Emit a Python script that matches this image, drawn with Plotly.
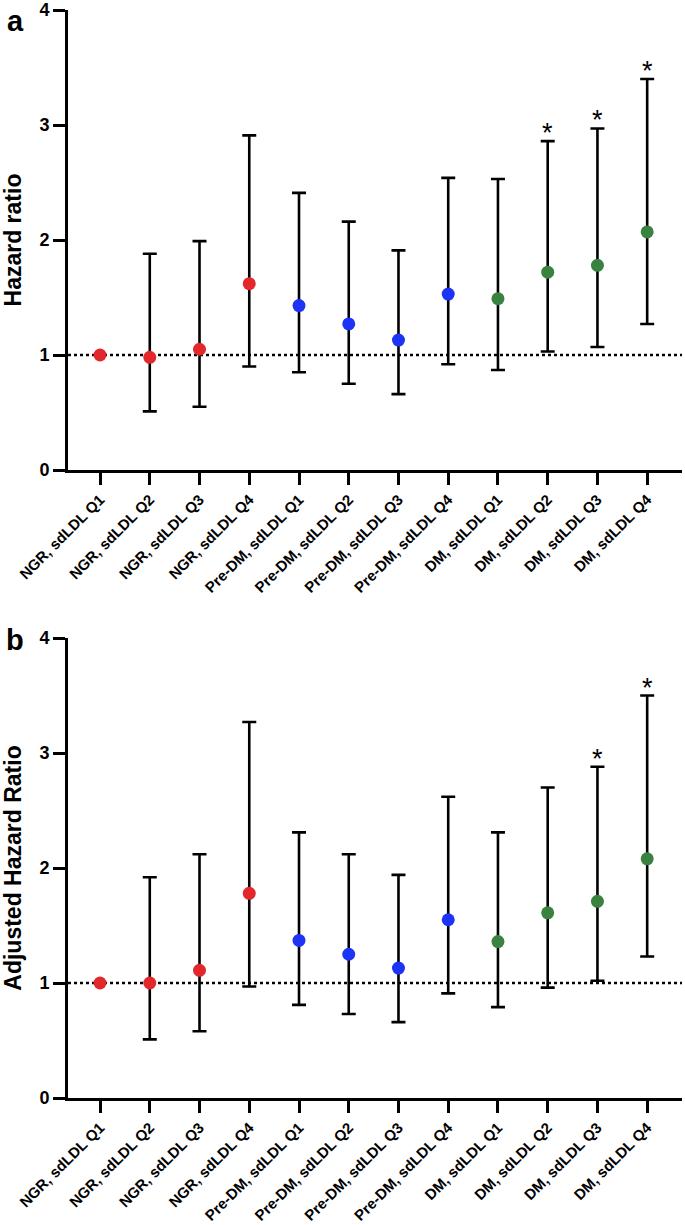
import numpy as np
import plotly.graph_objects as go

categories = ["NGR, sdLDL Q1", "NGR, sdLDL Q2", "NGR, sdLDL Q3", "NGR, sdLDL Q4",
              "Pre-DM, sdLDL Q1", "Pre-DM, sdLDL Q2", "Pre-DM, sdLDL Q3", "Pre-DM, sdLDL Q4",
              "DM, sdLDL Q1", "DM, sdLDL Q2", "DM, sdLDL Q3", "DM, sdLDL Q4"]
groups = ["NGR"] * 4 + ["Pre-DM"] * 4 + ["DM"] * 4

# Panel a: crude hazard ratios
hr_a = [1.00, 0.98, 1.05, 1.62, 1.43, 1.27, 1.13, 1.53, 1.49, 1.72, 1.78, 2.07]
lo_a = [None, 0.51, 0.55, 0.90, 0.85, 0.75, 0.66, 0.92, 0.87, 1.03, 1.07, 1.27]
hi_a = [None, 1.88, 1.99, 2.91, 2.41, 2.16, 1.91, 2.54, 2.53, 2.86, 2.97, 3.40]
sig_a = [False] * 9 + [True, True, True]

# Panel b: adjusted hazard ratios
hr_b = [1.00, 1.00, 1.11, 1.78, 1.37, 1.25, 1.13, 1.55, 1.36, 1.61, 1.71, 2.08]
lo_b = [None, 0.51, 0.58, 0.97, 0.81, 0.73, 0.66, 0.91, 0.79, 0.96, 1.02, 1.23]
hi_b = [None, 1.92, 2.12, 3.27, 2.31, 2.12, 1.94, 2.62, 2.31, 2.70, 2.88, 3.50]
sig_b = [False] * 10 + [True, True]

y_ticks = [0, 1, 2, 3, 4]
titles = ["Hazard ratio", "Adjusted Hazard Ratio"]
panel_letters = ["a", "b"]

group_colors = {"NGR": "#E2282B", "Pre-DM": "#1D33F6", "DM": "#3A823F"}
FONT = "Liberation Sans, Arial, Helvetica, sans-serif"

W, H = 685, 1225
fig = go.Figure()

x_dom = [68 / W, 682 / W]
y_doms = [[1 - 470 / H, 1 - 10 / H], [1 - 1098 / H, 1 - 638 / H]]

panels = [(hr_a, lo_a, hi_a, sig_a), (hr_b, lo_b, hi_b, sig_b)]
for i, (hr, lo, hi, sig) in enumerate(panels):
    xa = "x" if i == 0 else "x2"
    ya = "y" if i == 0 else "y2"
    hr_arr = np.array(hr, dtype=float)
    lo_arr = np.array([np.nan if v is None else v for v in lo], dtype=float)
    hi_arr = np.array([np.nan if v is None else v for v in hi], dtype=float)
    fig.add_trace(go.Scatter(
        x=categories, y=hr_arr, mode="markers", xaxis=xa, yaxis=ya,
        marker=dict(size=13, color=[group_colors[g] for g in groups], line=dict(width=0)),
        error_y=dict(type="data", symmetric=False, array=hi_arr - hr_arr,
                     arrayminus=hr_arr - lo_arr, color="black", thickness=2.6, width=7),
        showlegend=False,
    ))
    # reference line at HR = 1
    fig.add_shape(type="line", xref=f"{xa} domain", yref=ya, x0=0, x1=1, y0=1, y1=1,
                  line=dict(color="black", width=2.5, dash="dot"), layer="below")
    # significance asterisks
    for c, h, s in zip(categories, hi, sig):
        if s:
            fig.add_annotation(x=c, y=h, xref=xa, yref=ya, text="*", showarrow=False,
                               yanchor="bottom", yshift=-9,
                               font=dict(family=FONT, size=27, color="black"))
    # panel letter
    fig.add_annotation(x=15 / W, y=1 - (21 if i == 0 else 640) / H, xref="paper", yref="paper",
                       text=panel_letters[i], showarrow=False, xanchor="center", yanchor="middle",
                       font=dict(family=FONT, size=29, color="black", weight="bold"))

axis_common_x = dict(
    type="category", categoryorder="array", categoryarray=categories,
    range=[-0.644, 11.70], domain=x_dom, showline=True, linecolor="black", linewidth=3,
    ticks="outside", ticklen=12, tickwidth=3, tickcolor="black", tickangle=-45,
    tickfont=dict(family=FONT, size=15, color="black", weight="bold"),
    showgrid=False, zeroline=False, automargin=False, fixedrange=True,
)
axis_common_y = dict(
    range=[0, 4], tickvals=y_ticks, showline=True, linecolor="black", linewidth=3,
    ticks="outside", ticklen=12, tickwidth=3, tickcolor="black",
    tickfont=dict(family=FONT, size=18, color="black", weight="bold"),
    showgrid=False, zeroline=False, automargin=False, fixedrange=True,
)

fig.update_layout(
    width=W, height=H, margin=dict(l=0, r=0, t=0, b=0),
    paper_bgcolor="white", plot_bgcolor="white",
    xaxis=dict(axis_common_x, anchor="y"),
    xaxis2=dict(axis_common_x, anchor="y2"),
    yaxis=dict(axis_common_y, domain=y_doms[0], anchor="x",
               title=dict(text=titles[0], standoff=12,
                          font=dict(family=FONT, size=23, color="black", weight="bold"))),
    yaxis2=dict(axis_common_y, domain=y_doms[1], anchor="x2",
                title=dict(text=titles[1], standoff=12,
                           font=dict(family=FONT, size=23, color="black", weight="bold"))),
)

fig.write_html("out.html", config={"displayModeBar": False, "staticPlot": True},
               post_script="document.body.style.margin='0';document.body.style.overflow='hidden';")
